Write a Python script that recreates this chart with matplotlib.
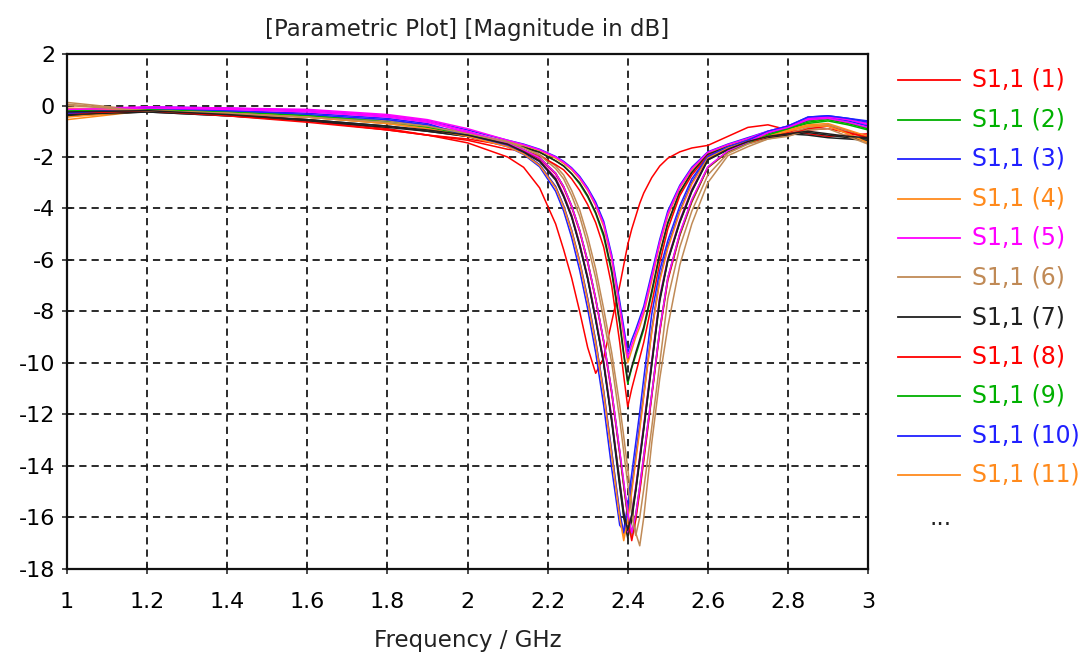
from matplotlib import pyplot as plt
from matplotlib.lines import Line2D
import numpy as np

# frequency samples (GHz), shared by every sweep result
freq = [1.0, 1.2, 1.4, 1.6, 1.8, 1.9, 2.0, 2.1, 2.14, 2.18, 2.22, 2.24, 2.26, 2.28, 2.30, 2.32, 2.34,
        2.36, 2.38, 2.39, 2.40, 2.41, 2.42, 2.43, 2.44, 2.46, 2.48, 2.50, 2.53, 2.56, 2.60, 2.65,
        2.70, 2.75, 2.80, 2.85, 2.90, 2.95, 3.0]

# |S1,1| in dB for each parameter step
s11_1 = [-0.3, -0.2, -0.35, -0.55, -0.9, -1.15, -1.45, -2.0, -2.4, -3.2, -4.6, -5.6, -6.7, -8.0, -9.4, -10.4, -9.8,
         -8.4, -7.0, -6.2, -5.4, -4.8, -4.3, -3.8, -3.4, -2.8, -2.35, -2.05, -1.8, -1.65, -1.55, -1.2,
         -0.85, -0.75, -0.95, -1.1, -1.2, -1.15, -1.1]
s11_2 = [-0.25, -0.15, -0.25, -0.4, -0.6, -0.8, -1.05, -1.45, -1.6, -1.8, -2.15, -2.35, -2.65, -3.05, -3.55, -4.2, -5.1,
         -6.5, -8.5, -9.7, -10.8, -10.2, -9.7, -9.2, -8.7, -7.3, -5.8, -4.6, -3.4, -2.6, -1.9, -1.6,
         -1.35, -1.1, -0.85, -0.6, -0.5, -0.65, -0.9]
s11_3 = [-0.35, -0.05, -0.1, -0.2, -0.4, -0.6, -0.95, -1.35, -1.5, -1.7, -1.98, -2.17, -2.42, -2.75, -3.2, -3.75, -4.5,
         -5.8, -7.6, -8.6, -9.6, -9.1, -8.7, -8.25, -7.8, -6.5, -5.2, -4.1, -3.1, -2.4, -1.8, -1.5,
         -1.25, -1.0, -0.8, -0.45, -0.4, -0.5, -0.6]
s11_4 = [-0.55, -0.2, -0.3, -0.45, -0.65, -0.85, -1.1, -1.4, -1.55, -1.75, -2.05, -2.25, -2.5, -2.85, -3.3, -3.9, -4.7,
         -6.0, -7.9, -9.0, -10.0, -9.5, -9.0, -8.6, -8.1, -6.8, -5.4, -4.3, -3.2, -2.5, -1.85, -1.55,
         -1.3, -1.2, -1.0, -0.8, -0.75, -1.0, -1.3]
s11_5 = [-0.2, -0.1, -0.1, -0.15, -0.35, -0.55, -0.9, -1.35, -1.52, -1.72, -2.0, -2.2, -2.45, -2.8, -3.25, -3.85, -4.6,
         -5.9, -7.8, -8.8, -9.8, -9.3, -8.85, -8.4, -7.95, -6.65, -5.3, -4.2, -3.15, -2.45, -1.82, -1.52,
         -1.28, -1.0, -0.8, -0.5, -0.45, -0.55, -0.75]
s11_6 = [0.12, -0.2, -0.3, -0.45, -0.6, -0.8, -1.05, -1.4, -1.6, -1.9, -2.35, -2.7, -3.3, -4.05, -5.1, -6.35, -7.9,
         -9.6, -11.65, -12.85, -14.1, -15.4, -16.6, -17.1, -16.0, -13.1, -10.6, -8.6, -6.2, -4.6, -3.0, -1.95,
         -1.6, -1.3, -1.15, -0.9, -0.8, -1.1, -1.45]
s11_7 = [-0.4, -0.25, -0.4, -0.55, -0.8, -1.0, -1.2, -1.55, -1.62, -1.82, -2.15, -2.35, -2.65, -3.0, -3.5, -4.15, -5.0,
         -6.4, -8.4, -9.6, -10.7, -10.15, -9.6, -9.1, -8.6, -7.2, -5.75, -4.55, -3.35, -2.6, -1.9, -1.6,
         -1.4, -1.25, -1.1, -1.15, -1.25, -1.3, -1.35]
s11_8 = [-0.3, -0.2, -0.35, -0.6, -0.95, -1.15, -1.35, -1.7, -1.75, -1.95, -2.3, -2.5, -2.85, -3.3, -3.85, -4.55, -5.5,
         -7.0, -9.2, -10.5, -11.7, -11.0, -10.4, -9.8, -9.2, -7.7, -6.1, -4.8, -3.5, -2.7, -1.95, -1.65,
         -1.45, -1.2, -1.05, -0.9, -0.8, -1.0, -1.2]
s11_9 = [-0.2, -0.15, -0.25, -0.4, -0.65, -0.85, -1.15, -1.5, -1.8, -2.15, -2.85, -3.5, -4.3, -5.4, -6.7, -8.3, -10.0,
         -12.2, -14.7, -15.9, -16.7, -16.0, -14.9, -13.7, -12.5, -10.0, -7.5, -6.0, -4.5, -3.3, -2.1, -1.7,
         -1.4, -1.15, -0.9, -0.7, -0.6, -0.75, -0.95]
s11_10 = [-0.3, -0.1, -0.2, -0.35, -0.55, -0.75, -1.2, -1.6, -1.9, -2.38, -3.33, -4.1, -5.13, -6.4, -7.9, -9.6, -11.65,
          -14.1, -16.3, -16.5, -15.5, -14.3, -13.1, -11.9, -10.6, -8.1, -6.4, -5.25, -3.9, -2.85, -1.98, -1.61,
          -1.35, -1.05, -0.85, -0.55, -0.45, -0.6, -0.8]
s11_11 = [-0.45, -0.2, -0.3, -0.45, -0.7, -0.9, -1.18, -1.57, -1.86, -2.3, -3.15, -3.9, -4.85, -6.05, -7.5, -9.15, -11.1,
          -13.45, -15.9, -16.7, -16.0, -14.9, -13.7, -12.5, -11.25, -8.75, -6.75, -5.5, -4.1, -3.0, -2.02, -1.64,
          -1.37, -1.15, -0.95, -0.75, -0.7, -0.95, -1.2]
s11_12 = [-0.15, -0.05, -0.1, -0.2, -0.4, -0.6, -1.0, -1.45, -1.78, -2.12, -2.8, -3.45, -4.25, -5.35, -6.65, -8.2, -9.9,
          -12.1, -14.6, -15.8, -16.6, -15.9, -14.8, -13.6, -12.4, -9.9, -7.4, -5.95, -4.45, -3.25, -2.08, -1.68,
          -1.38, -1.05, -0.8, -0.5, -0.45, -0.55, -0.7]
s11_13 = [0.05, -0.2, -0.3, -0.45, -0.7, -0.85, -1.12, -1.46, -1.72, -2.03, -2.63, -3.15, -3.9, -4.85, -6.05, -7.5, -9.15,
          -11.1, -13.45, -14.7, -15.9, -16.8, -16.0, -14.9, -13.7, -11.25, -8.75, -6.75, -5.0, -3.7, -2.4, -1.78,
          -1.45, -1.25, -1.1, -0.85, -0.75, -1.0, -1.3]
s11_14 = [-0.35, -0.25, -0.4, -0.6, -0.85, -1.0, -1.2, -1.55, -1.82, -2.18, -2.9, -3.55, -4.35, -5.45, -6.75, -8.35, -10.05,
          -12.3, -14.8, -16.0, -16.8, -16.1, -15.0, -13.8, -12.6, -10.1, -7.6, -6.05, -4.55, -3.35, -2.12, -1.72,
          -1.42, -1.25, -1.15, -1.05, -1.15, -1.25, -1.3]
s11_15 = [-0.3, -0.2, -0.4, -0.65, -0.95, -1.15, -1.3, -1.55, -1.75, -2.06, -2.66, -3.2, -3.95, -4.9, -6.1, -7.55, -9.2,
          -11.2, -13.55, -14.8, -16.0, -16.9, -16.1, -15.0, -13.8, -11.3, -8.8, -6.8, -5.05, -3.75, -2.42, -1.8,
          -1.48, -1.2, -1.1, -0.95, -0.9, -1.05, -1.25]
s11_16 = [-0.25, -0.15, -0.25, -0.4, -0.65, -0.85, -1.12, -1.46, -1.72, -2.03, -2.63, -3.15, -3.9, -4.85, -6.05, -7.5, -9.15,
          -11.1, -13.45, -14.7, -15.9, -16.6, -15.9, -14.8, -13.6, -11.2, -8.7, -6.7, -5.0, -3.7, -2.4, -1.78,
          -1.45, -1.15, -0.9, -0.65, -0.55, -0.7, -0.9]
s11_17 = [-0.3, -0.1, -0.2, -0.3, -0.5, -0.7, -1.18, -1.57, -1.86, -2.3, -3.15, -3.9, -4.85, -6.05, -7.5, -9.15, -11.1,
          -13.45, -15.8, -16.6, -15.9, -14.8, -13.6, -12.4, -11.2, -8.7, -6.7, -5.45, -4.08, -2.98, -2.0, -1.62,
          -1.35, -1.0, -0.8, -0.45, -0.4, -0.5, -0.65]
s11_18 = [-0.1, -0.2, -0.3, -0.45, -0.7, -0.9, -1.2, -1.6, -1.88, -2.33, -3.2, -3.95, -4.9, -6.1, -7.6, -9.25, -11.2,
          -13.6, -16.0, -16.9, -16.1, -15.0, -13.8, -12.6, -11.3, -8.8, -6.8, -5.55, -4.15, -3.05, -2.05, -1.66,
          -1.4, -1.2, -1.0, -0.8, -0.8, -1.1, -1.45]
s11_19 = [-0.15, -0.1, -0.15, -0.25, -0.45, -0.65, -1.05, -1.46, -1.72, -2.03, -2.63, -3.15, -3.9, -4.85, -6.05, -7.5, -9.15,
          -11.1, -13.4, -14.6, -15.8, -16.6, -15.9, -14.8, -13.6, -11.2, -8.7, -6.7, -4.95, -3.65, -2.38, -1.76,
          -1.42, -1.05, -0.85, -0.55, -0.5, -0.65, -0.85]
s11_20 = [0.0, -0.2, -0.3, -0.45, -0.65, -0.8, -1.1, -1.42, -1.65, -1.93, -2.45, -2.85, -3.5, -4.3, -5.4, -6.7, -8.3,
          -10.0, -12.2, -13.45, -14.7, -15.9, -16.7, -16.0, -14.9, -12.5, -10.0, -7.5, -5.5, -4.1, -2.7, -1.86,
          -1.5, -1.3, -1.2, -0.95, -0.9, -1.2, -1.5]
s11_21 = [-0.25, -0.2, -0.35, -0.55, -0.8, -0.95, -1.15, -1.5, -1.8, -2.15, -2.85, -3.5, -4.3, -5.4, -6.7, -8.3, -10.0,
          -12.2, -14.6, -15.8, -16.5, -15.9, -14.9, -13.7, -12.5, -10.0, -7.5, -6.0, -4.5, -3.3, -2.1, -1.7,
          -1.4, -1.2, -1.1, -1.0, -1.1, -1.2, -1.25]

curves = [s11_1, s11_2, s11_3, s11_4, s11_5, s11_6, s11_7, s11_8, s11_9, s11_10, s11_11,
          s11_12, s11_13, s11_14, s11_15, s11_16, s11_17, s11_18, s11_19, s11_20, s11_21]
labels = ['S1,1 (%d)' % (i + 1) for i in range(len(curves))]

# CST colour cycle
cycle = ['#ff0000', '#00b000', '#2020ff', '#ff8a1c', '#ff00ff', '#c08a56', '#202020']
colors = [cycle[i % len(cycle)] for i in range(len(curves))]

x_ticks = np.arange(1.0, 3.01, 0.2)
x_tick_labels = ['1', '1.2', '1.4', '1.6', '1.8', '2', '2.2', '2.4', '2.6', '2.8', '3']
y_ticks = np.arange(-18, 3, 2)

plt.rcParams['font.family'] = ['DejaVu Sans']
plt.rcParams['axes.unicode_minus'] = False

fig = plt.figure(figsize=(10.86, 6.57), dpi=100)
ax = fig.add_axes([0.0617, 0.134, 0.7376, 0.7838])

for values, color in zip(curves, colors):
    ax.plot(freq, values, color=color, lw=1.1)

ax.set_xlim(1, 3)
ax.set_ylim(-18, 2)
ax.set_xticks(x_ticks)
ax.set_xticklabels(x_tick_labels)
ax.set_yticks(y_ticks)
ax.grid(True, color='#1a1a1a', linestyle=(0, (4, 2.8)), linewidth=1.3)
ax.tick_params(direction='inout', length=7, width=1.1, labelsize=16, color='#1a1a1a', pad=5)
ax.tick_params(axis='x', pad=13)
for spine in ax.spines.values():
    spine.set_linewidth(1.6)
    spine.set_color('#111111')

ax.set_title('[Parametric Plot] [Magnitude in dB]', fontsize=16.5, pad=13, color='#222222')
ax.set_xlabel('Frequency / GHz', fontsize=16.5, labelpad=12, color='#222222')

# legend column on the right, first eleven entries only
top = 1 - 80 / 657
step = 39.5 / 657
for i in range(11):
    y = top - i * step
    fig.add_artist(Line2D([898 / 1086, 960 / 1086], [y, y], color=colors[i], lw=1.3))
    fig.text(972 / 1086, y, labels[i], color=colors[i], fontsize=17, va='center', ha='left')
fig.text(941 / 1086, 1 - 518 / 657, '...', color='#222222', fontsize=17, va='center', ha='center')

plt.savefig('out.png', dpi=100)
